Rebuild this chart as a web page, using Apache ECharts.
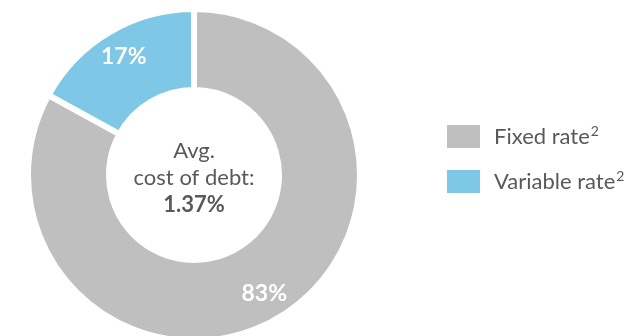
<!DOCTYPE html>
<html><head><meta charset="utf-8">
<script src="https://cdn.jsdelivr.net/npm/echarts@6/dist/echarts.min.js"></script>
<style>html,body{margin:0;padding:0;background:#fff}#c{width:641px;height:336px}</style>
</head><body><div id="c"></div>
<script>
var categories = ['Fixed rate', 'Variable rate'];
var footnotes = ['2', '2'];
var values = [83, 17];
var colors = ['#BFBFBF', '#7FC7E6'];
var centerLines = ['Avg.', 'cost of debt:', '1.37%'];

var font = 'Lato, "Open Sans", sans-serif';
var data = categories.map(function (c, i) {
  return { name: c, value: values[i], itemStyle: { color: colors[i] } };
});
var labelData = categories.map(function (c, i) {
  return { name: c, value: values[i] };
});
var chart = echarts.init(document.getElementById('c'));
chart.setOption({
  animation: false,
  legend: {
    orient: 'vertical', left: 445, top: 123, padding: 0,
    itemWidth: 35, itemHeight: 25, itemGap: 18,
    icon: 'rect',
    formatter: function (name) {
      return '{n|' + name + '}{s|' + footnotes[categories.indexOf(name)] + '}';
    },
    textStyle: {
      fontFamily: font, fontSize: 22, color: '#595959', padding: [0, 0, 0, 8],
      rich: {
        n: { fontFamily: font, fontSize: 22, color: '#595959', lineHeight: 25 },
        s: { fontFamily: font, fontSize: 14, color: '#595959', verticalAlign: 'top', lineHeight: 25, padding: [0, 0, 8, 1] }
      }
    },
    data: categories
  },
  graphic: [{
    type: 'text', x: 194, y: 178, z: 100,
    style: {
      text: '{a|' + centerLines[0] + '}\n{a|' + centerLines[1] + '}\n{b|' + centerLines[2] + '}',
      align: 'center', verticalAlign: 'middle',
      rich: {
        a: { fontFamily: font, fontSize: 22, fill: '#595959', lineHeight: 27, align: 'center' },
        b: { fontFamily: font, fontSize: 22, fontWeight: 'bold', fill: '#595959', lineHeight: 27, align: 'center' }
      }
    }
  }],
  series: [{
    type: 'pie', center: [194, 175], radius: [85, 166], startAngle: 90,
    clockwise: true, silent: true,
    itemStyle: { borderColor: '#fff', borderWidth: 6 },
    label: { show: false }, labelLine: { show: false },
    data: data
  }, {
    type: 'pie', center: [194, 175], radius: [104, 166], startAngle: 90,
    clockwise: true, silent: true,
    itemStyle: { color: 'rgba(0,0,0,0)' },
    label: {
      show: true, position: 'inside', formatter: '{c}%',
      fontFamily: font, fontSize: 23, fontWeight: 'bold', color: '#fff'
    },
    labelLine: { show: false },
    data: labelData
  }]
});
</script></body></html>
